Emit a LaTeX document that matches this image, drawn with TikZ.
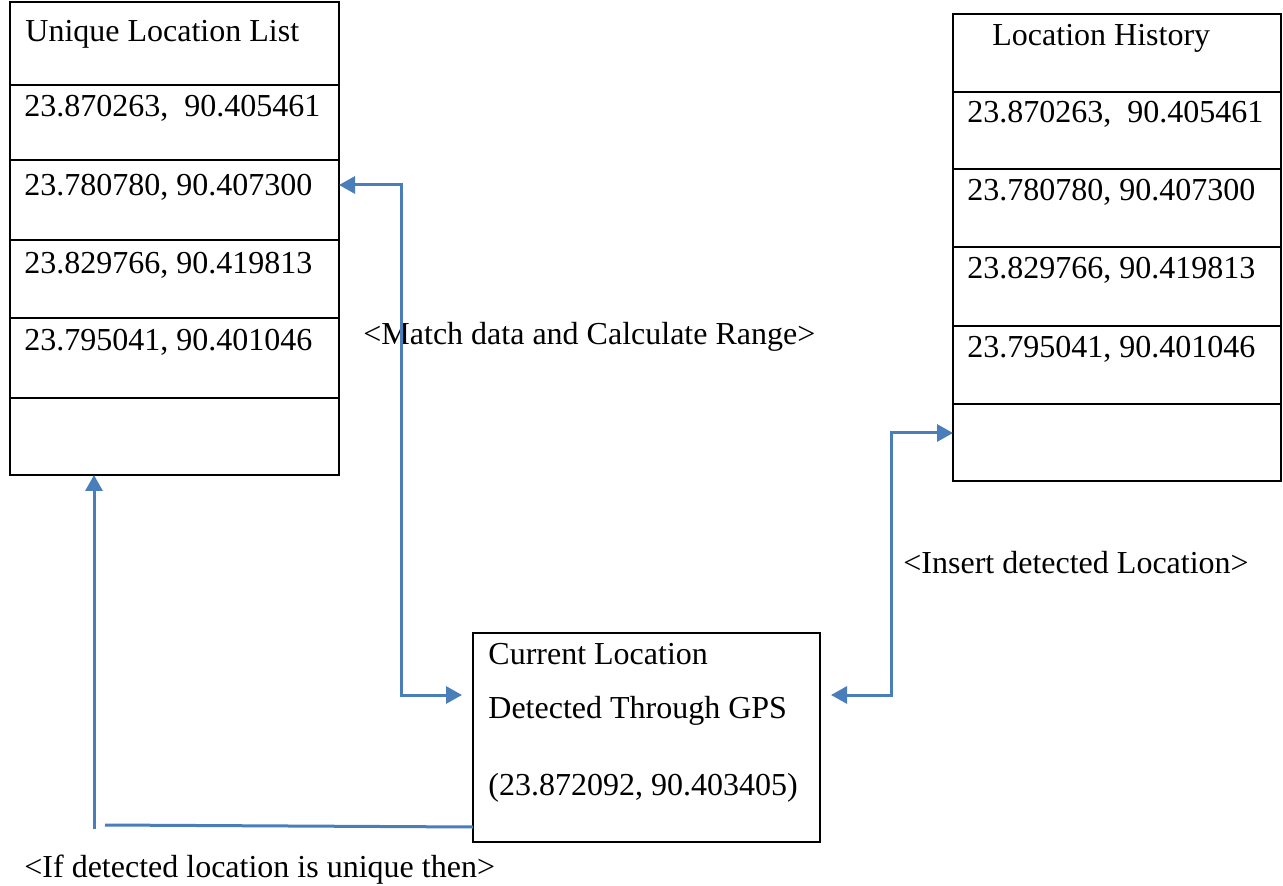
\documentclass[tikz,border=0pt]{standalone}
\usepackage{fontspec}
\setmainfont{Liberation Serif}
\usetikzlibrary{arrows.meta,calc}
\definecolor{linkblue}{RGB}{74,126,187}

\begin{document}
\begin{tikzpicture}[x=0.5pt,y=-0.5pt,
		cell/.style={draw, line width=1pt, inner sep=0pt, outer sep=0pt, minimum width=164.5pt},
		txt/.style={anchor=base west, inner sep=0pt, font=\fontsize{16}{19}\selectfont},
		link/.style={draw=linkblue, line width=1.5pt},
		>={Triangle[length=8pt,width=8.5pt]}]
	\useasboundingbox (0,0) rectangle (1283,886);
	% unique location list
	\foreach \i/\a/\b in {0/2/85,1/85/160,2/160/240,3/240/318,4/318/398,5/398/475}{
		\node[cell, minimum height={(\b-\a)*0.5pt}] (u\i) at (174.5,{(\a+\b)/2}) {};
	}
	\node[txt] (uh) at (25,42) {Unique Location List};
	\foreach \i/\y/\t in {1/117/{23.870263,\ \ 90.405461},2/196/{23.780780, 90.407300},3/274/{23.829766, 90.419813},4/351/{23.795041, 90.401046}}{
		\node[txt] (ut\i) at (24,\y) {\t};
	}
	% location history
	\foreach \i/\a/\b in {0/14/92,1/92/169,2/169/247,3/247/326,4/326/404,5/404/481}{
		\node[cell, minimum width=164pt, minimum height={(\b-\a)*0.5pt}] (h\i) at (1117,{(\a+\b)/2}) {};
	}
	\node[txt] (hh) at (992,46) {Location History};
	\foreach \i/\y/\t in {1/123/{23.870263,\ \ 90.405461},2/201/{23.780780, 90.407300},3/279/{23.829766, 90.419813},4/358/{23.795041, 90.401046}}{
		\node[txt] (ht\i) at (967,\y) {\t};
	}
	% current location
	\node[cell, minimum width=173.5pt, minimum height=104.5pt] (cur) at (646.5,737.5) {};
	\node[txt] (cur1) at (488,664) {Current Location};
	\node[txt] (cur2) at (488,718) {Detected Through GPS};
	\node[txt] (cur3) at (488,795) {(23.872092, 90.403405)};
	% labels
	\node[txt] (lmatch) at (363,345) {<Match data and Calculate Range>};
	\node[txt] (linsert) at (903,574) {<Insert detected Location>};
	\node[txt] (lunique) at (24,877) {<If detected location is unique then>};
	% connectors
	\coordinate (ma) at ($(u2.north east)+(0,25)$);
	\coordinate (mb) at ($(cur.west)+(-11,-42.5)$);
	\draw[link,<->] (ma) -- ++(62,0) |- (mb);
	\coordinate (ia) at ($(h5.north west)+(0,29)$);
	\coordinate (ib) at ($(cur.east)+(11,-42.5)$);
	\draw[link,<->] (ib) -- ++(60,0) |- (ia);
	\coordinate (ua) at ($(u5.south west)+(84,0)$);
	\coordinate (ub) at ($(ua)+(0,354)$);
	\coordinate (uc) at ($(ua)+(11,350)$);
	\draw[link,->] (ub) -- (ua);
	\draw[link] ($(cur.south west)+(0,-15)$) -- (uc);
\end{tikzpicture}
\end{document}
